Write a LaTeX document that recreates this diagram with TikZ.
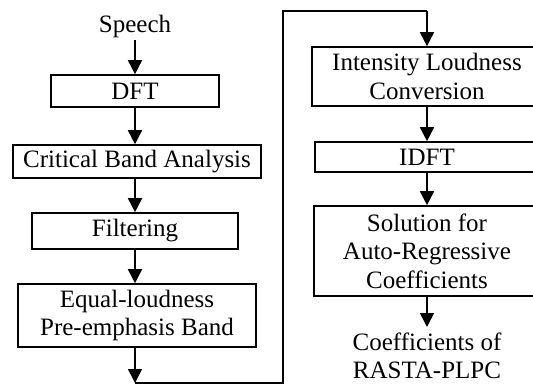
\documentclass[tikz,border=0pt]{standalone}
\usepackage{fontspec}
\setmainfont{Liberation Serif}
\usetikzlibrary{arrows.meta}
\begin{document}
\begin{tikzpicture}[x=1pt,y=-1pt,
  every node/.style={font=\fontsize{25}{28.5}\selectfont, align=center, inner sep=0pt},
  blk/.style={draw, line width=1.6pt, rectangle},
  flow/.style={line width=1.6pt, -{Triangle[length=14pt,width=14pt]}},
  wire/.style={line width=1.6pt}]
\useasboundingbox (0,0) rectangle (533,385);
\clip (0,0) rectangle (533,385);
\fill[white] (0,0) rectangle (533,385);
% left column
\node (speech) at (135,26) {Speech};
\node[blk, minimum width=168pt, minimum height=32pt] (dft) at (135,91) {DFT};
\node[blk, minimum width=248pt, minimum height=33pt] (cba) at (137,161.5) {Critical Band Analysis};
\node[blk, minimum width=206pt, minimum height=36pt] (filt) at (135,231) {Filtering};
\node[blk, minimum width=238pt, minimum height=63pt] (eq) at (137,315.5) {Equal-loudness\\Pre-emphasis Band};
\coordinate (b1) at (135,383);
\coordinate (b2) at (283,383);
\coordinate (b3) at (283,11);
\coordinate (b4) at (427,11);
% right column: boxes run past the right edge of the picture
\node[blk, minimum width=260pt, minimum height=59pt] (ilcbox) at (442,76.5) {};
\node (ilc) at (427,76.5) {Intensity Loudness\\Conversion};
\node[blk, minimum width=254pt, minimum height=30pt] (idftbox) at (442,157) {};
\node (idft) at (427,157) {IDFT};
\node[blk, minimum width=256pt, minimum height=90pt] (solbox) at (442,251) {};
\node (sol) at (427,251) {Solution for\\Auto-Regressive\\Coefficients};
\node (out) at (427,356) {Coefficients of\\RASTA-PLPC};
% connectors
\draw[flow] (135,40) -- (dft.north);
\draw[flow] (dft.south) -- (dft.south |- cba.north);
\draw[flow] (dft.south |- cba.south) -- (dft.south |- filt.north);
\draw[flow] (filt.south) -- (filt.south |- eq.north);
\draw[flow] (filt.south |- eq.south) -- (b1);
\draw[wire] (b1) -- (b2) -- (b3) -- (b4);
\draw[flow] (b4) -- (b4 |- ilcbox.north);
\draw[flow] (b4 |- ilcbox.south) -- (b4 |- idftbox.north);
\draw[flow] (b4 |- idftbox.south) -- (b4 |- solbox.north);
\draw[flow] (b4 |- solbox.south) -- (427,327);
\end{tikzpicture}
\end{document}
